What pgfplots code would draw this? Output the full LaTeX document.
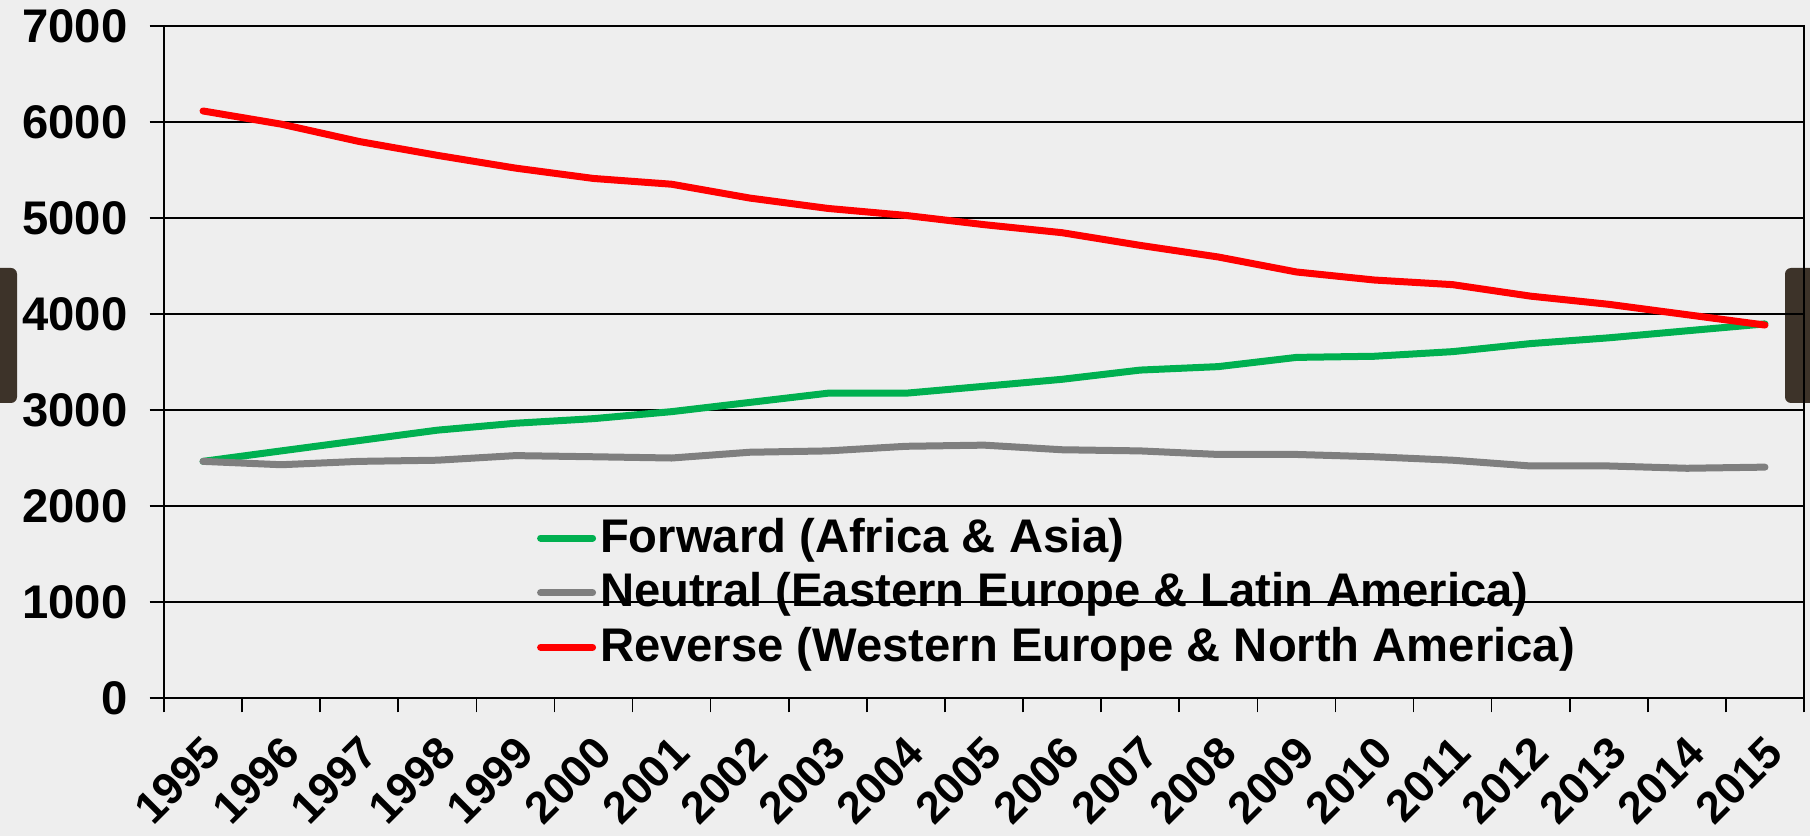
\documentclass[border=0pt]{standalone}
\usepackage{fontspec}
\setmainfont{Liberation Sans}
\usepackage{pgfplots}
\pgfplotsset{compat=1.18}
\definecolor{fwd}{HTML}{00B050}
\definecolor{neu}{HTML}{7F7F7F}
\definecolor{rev}{HTML}{FF0000}
\definecolor{bg}{HTML}{EEEEEE}
\definecolor{tab}{HTML}{3D3329}
\begin{document}
\begin{tikzpicture}
\useasboundingbox (0,0) rectangle (452.5pt,209pt);
\fill[bg] (0,0) rectangle (452.5pt,209pt);
\fill[tab, rounded corners=1.5pt] (-2pt,108.25pt) rectangle (4.25pt,142pt);
\fill[tab, rounded corners=1.5pt] (446.25pt,108.25pt) rectangle (455pt,142pt);
\begin{axis}[
  at={(41pt,34.5pt)}, anchor=south west,
  scale only axis, width=410pt, height=168pt,
  xmin=-0.5, xmax=20.5, ymin=0, ymax=7000,
  ytick={0,1000,...,7000},
  xtick={-0.5,0.5,...,20.5},
  xticklabels={1995,1996,1997,1998,1999,2000,2001,2002,2003,2004,2005,2006,2007,2008,2009,2010,2011,2012,2013,2014,2015,{}},
  tick pos=left,
  tick align=outside, major tick length=3.6pt,
  tick style={black, line width=0.4pt},
  ymajorgrids, major grid style={black, line width=0.35pt},
  axis line style={black, line width=0.6pt},
  /pgf/number format/assume math mode=true,
  /pgf/number format/1000 sep={},
  tick label style={font=\fontsize{11.8}{14}\selectfont\bfseries},
  yticklabel style={xshift=-2pt},
  xticklabel style={font=\fontsize{11.2}{13}\selectfont\bfseries, anchor=east, inner sep=0pt, xshift=12.3pt, yshift=-8pt, rotate=45},
  legend style={draw=none, fill=none, at={(0.227,0.275)}, anchor=north west,
    font=\fontsize{11.8}{13}\selectfont\bfseries, inner sep=0pt,
    row sep=1.6pt, nodes={inner sep=1pt}},
  legend cell align=left,
  legend image code/.code={\draw[#1, line width=1.75pt, line cap=round] (0pt,0pt) -- (13pt,0pt);},
  every axis plot/.append style={line width=1.75pt, line cap=round, line join=round},
]
\addplot[fwd] coordinates {(0,2465)(1,2574)(2,2682)(3,2790)(4,2862)(5,2910)(6,2983)(7,3079)(8,3175)(9,3175)(10,3247)(11,3320)(12,3416)(13,3452)(14,3548)(15,3560)(16,3608)(17,3692)(18,3752)(19,3825)(20,3897)};
\addlegendentry{Forward (Africa \& Asia)}
\addplot[neu] coordinates {(0,2465)(1,2430)(2,2465)(3,2477)(4,2525)(5,2513)(6,2500)(7,2560)(8,2574)(9,2622)(10,2634)(11,2586)(12,2574)(13,2537)(14,2537)(15,2513)(16,2477)(17,2417)(18,2417)(19,2393)(20,2405)};
\addlegendentry{Neutral (Eastern Europe \& Latin America)}
\addplot[rev] coordinates {(0,6115)(1,5978)(2,5797)(3,5653)(4,5520)(5,5412)(6,5352)(7,5208)(8,5100)(9,5027)(10,4931)(11,4847)(12,4715)(13,4594)(14,4438)(15,4354)(16,4306)(17,4186)(18,4101)(19,3993)(20,3885)};
\addlegendentry{Reverse (Western Europe \& North America)}
\end{axis}
\end{tikzpicture}
\end{document}
